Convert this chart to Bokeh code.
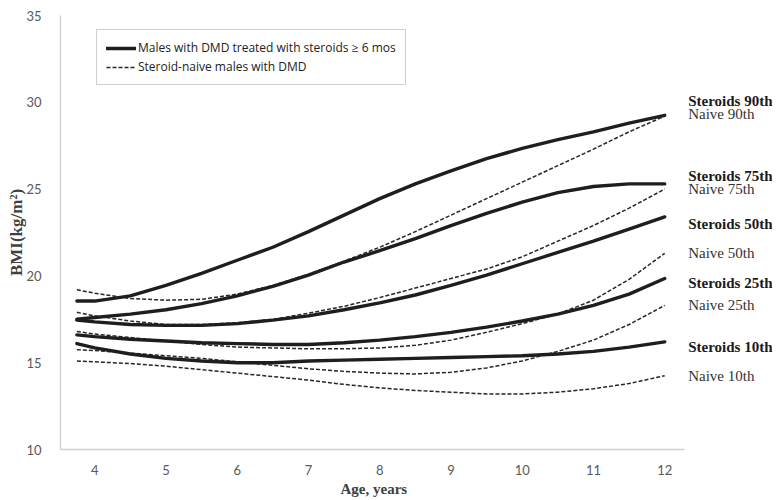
from bokeh.plotting import figure
from bokeh.models import Range1d, FixedTicker, Label, Legend, LegendItem, Title
from bokeh.embed import file_html
from bokeh.resources import INLINE

# ---- data ----
ages = [3.75, 4, 4.5, 5, 5.5, 6, 6.5, 7, 7.5, 8, 8.5, 9, 9.5, 10, 10.5, 11, 11.5, 12]

steroids_90 = [18.55, 18.55, 18.85, 19.45, 20.15, 20.9, 21.65, 22.55, 23.5, 24.45, 25.3, 26.05, 26.75, 27.35, 27.85, 28.3, 28.8, 29.25]
steroids_75 = [17.5, 17.6, 17.8, 18.05, 18.4, 18.85, 19.4, 20.05, 20.8, 21.45, 22.15, 22.9, 23.6, 24.25, 24.8, 25.15, 25.3, 25.3]
steroids_50 = [17.45, 17.35, 17.2, 17.15, 17.15, 17.25, 17.45, 17.7, 18.05, 18.45, 18.9, 19.45, 20.05, 20.7, 21.35, 22.0, 22.7, 23.4]
steroids_25 = [16.6, 16.5, 16.35, 16.25, 16.15, 16.1, 16.05, 16.05, 16.15, 16.3, 16.5, 16.75, 17.05, 17.4, 17.8, 18.3, 18.95, 19.85]
steroids_10 = [16.1, 15.85, 15.5, 15.25, 15.1, 15.0, 15.0, 15.1, 15.15, 15.2, 15.25, 15.3, 15.35, 15.4, 15.5, 15.65, 15.9, 16.2]

naive_90 = [19.2, 19.0, 18.7, 18.6, 18.65, 18.95, 19.45, 20.1, 20.85, 21.65, 22.55, 23.5, 24.45, 25.4, 26.35, 27.3, 28.3, 29.2]
naive_75 = [17.9, 17.7, 17.4, 17.2, 17.2, 17.3, 17.5, 17.85, 18.25, 18.75, 19.3, 19.85, 20.4, 21.1, 22.0, 22.9, 23.9, 25.0]
naive_50 = [16.8, 16.65, 16.45, 16.25, 16.05, 15.9, 15.85, 15.8, 15.8, 15.85, 16.0, 16.3, 16.75, 17.25, 17.8, 18.6, 19.8, 21.3]
naive_25 = [15.75, 15.7, 15.55, 15.4, 15.25, 15.05, 14.85, 14.65, 14.5, 14.4, 14.35, 14.45, 14.7, 15.1, 15.65, 16.3, 17.2, 18.3]
naive_10 = [15.1, 15.05, 14.95, 14.8, 14.6, 14.4, 14.2, 14.0, 13.75, 13.55, 13.4, 13.3, 13.2, 13.2, 13.3, 13.5, 13.8, 14.25]

x_ticks = [4, 5, 6, 7, 8, 9, 10, 11, 12]
y_ticks = [10, 15, 20, 25, 30, 35]

end_labels = ["Steroids 90th", "Naive 90th", "Steroids 75th", "Naive 75th", "Steroids 50th",
              "Naive 50th", "Steroids 25th", "Naive 25th", "Steroids 10th", "Naive 10th"]
end_label_y = [30.1, 29.35, 25.78, 25.03, 23.0, 21.3, 19.6, 18.3, 15.88, 14.26]

legend_labels = ["Males with DMD treated with steroids \u2265 6 mos", "Steroid-naive males with DMD"]

# ---- figure ----
X0, X_AXIS_END = 3.52, 12.28
p = figure(width=777, height=500, output_backend="svg", toolbar_location=None,
           x_range=Range1d(X0, X0 + 712 / 71.25), y_range=Range1d(10, 35),
           min_border_left=60, min_border_right=5, min_border_top=15, min_border_bottom=51)
p.grid.visible = False
p.outline_line_color = None
p.background_fill_color = "white"
p.border_fill_color = "white"

solid_kw = dict(line_color="#1e1e1e", line_width=3.4, line_cap="round")
dash_kw = dict(line_color="#262626", line_width=1.5, line_dash="4 2")

r_n = {}
for name, ys in [("n90", naive_90), ("n75", naive_75), ("n50", naive_50), ("n25", naive_25), ("n10", naive_10)]:
    r_n[name] = p.line(ages, ys, **dash_kw)
r_s = {}
for name, ys in [("s90", steroids_90), ("s75", steroids_75), ("s50", steroids_50), ("s25", steroids_25), ("s10", steroids_10)]:
    r_s[name] = p.line(ages, ys, **solid_kw)

# axes
for ax in (p.xaxis[0], p.yaxis[0]):
    ax.major_tick_line_color = None
    ax.minor_tick_line_color = None
    ax.axis_line_color = "#d0d0d0"
    ax.axis_line_width = 1.3
    ax.major_label_text_font = "Lato"
    ax.major_label_text_font_size = "13px"
    ax.major_label_text_color = "#595959"
    ax.axis_label_text_font = "Liberation Serif"
    ax.axis_label_text_font_style = "bold"
    ax.axis_label_text_color = "#404040"

p.xaxis.bounds = (X0, X_AXIS_END)
p.xaxis.ticker = FixedTicker(ticks=x_ticks)
p.yaxis.ticker = FixedTicker(ticks=y_ticks)
p.yaxis.axis_label = "BMI(kg/m\u00b2)"
p.yaxis.axis_label_text_font_size = "17px"
p.xaxis.major_label_standoff = 9
p.yaxis.major_label_standoff = 13
p.yaxis.axis_label_standoff = -3

# x-axis title, centred under the drawn axis line (not the wider frame)
xtitle = Title(text="Age, years", align="left", offset=280, standoff=2,
               text_font="Liberation Serif", text_font_style="bold",
               text_font_size="15px", text_color="#404040")
p.add_layout(xtitle, "below")

# end labels
for txt, yv in zip(end_labels, end_label_y):
    bold = txt.startswith("Steroids")
    p.add_layout(Label(x=12.33, y=yv, text=txt, text_align="left", text_baseline="middle",
                       text_font="Liberation Serif", text_font_size="15px",
                       text_font_style="bold" if bold else "normal",
                       text_color="#1a1a1a" if bold else "#333333"))

# legend
legend = Legend(items=[LegendItem(label=legend_labels[0], renderers=[r_s["s90"]]),
                       LegendItem(label=legend_labels[1], renderers=[r_n["n90"]])],
                location=(36, 364))
legend.border_line_color = "#a0a0a0"
legend.border_line_width = 1.5
legend.background_fill_color = "white"
legend.background_fill_alpha = 1
legend.label_text_font = "Open Sans"
legend.label_text_font_size = "12px"
legend.label_text_color = "#222222"
legend.glyph_width = 30
legend.glyph_height = 16
legend.label_height = 16
legend.label_standoff = 2
legend.spacing = 2
legend.padding = 9
legend.margin = 0
p.add_layout(legend, "center")

open("out.html", "w").write(file_html(p, INLINE))
